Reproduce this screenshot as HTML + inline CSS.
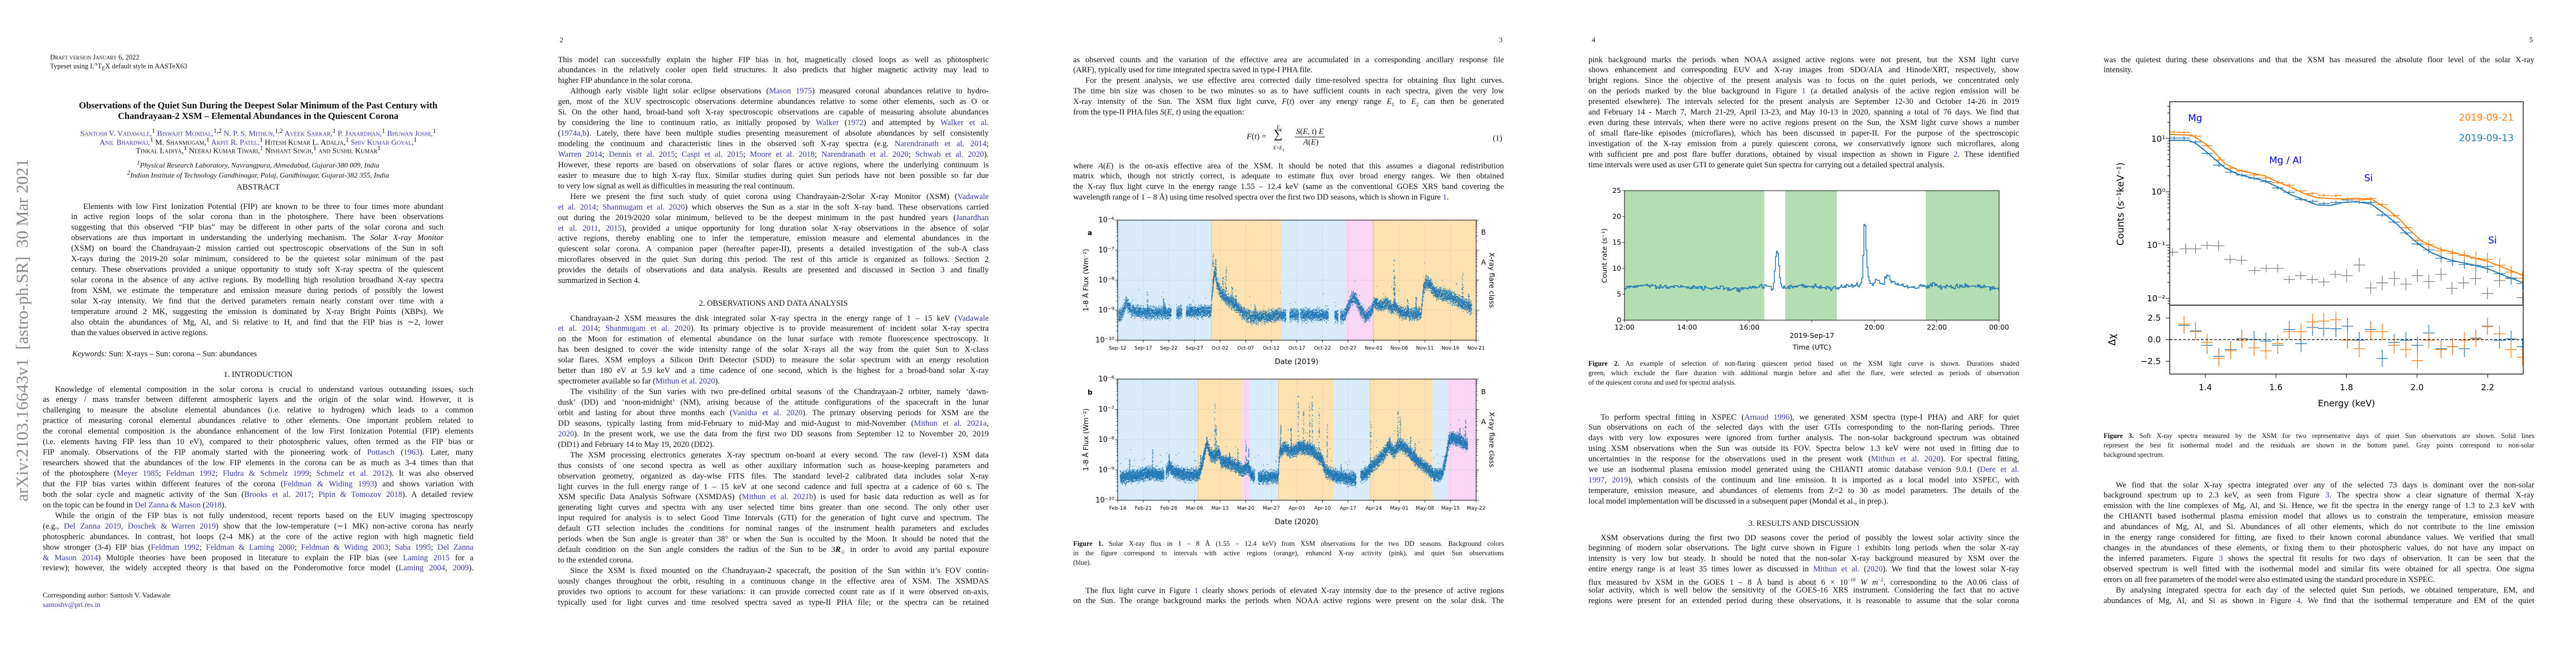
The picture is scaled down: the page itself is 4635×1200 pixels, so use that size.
<!DOCTYPE html>
<html><head><meta charset="utf-8">
<style>
body{margin:0;width:4635px;height:1200px;position:relative;background:#fff;overflow:hidden;font-family:"Liberation Serif",serif;color:#111}
.t{position:absolute;width:775px;font-size:14.5px;line-height:18.95px}
.t div{height:18.95px;overflow:hidden;text-align:justify;text-align-last:justify;white-space:normal}
.t div.e{text-align-last:left}
.t div.i{text-indent:22px}
.cap{position:absolute;width:775px;font-size:12.3px;line-height:17px}
.cap div{height:17px;overflow:hidden;text-align:justify;text-align-last:justify}
.cap div.e{text-align-last:left}
.L{position:absolute;white-space:nowrap}
.c{color:#3838a8}
.sc{font-variant:small-caps}
.ctr{position:absolute;width:775px;text-align:center;white-space:nowrap}
svg{position:absolute;top:0}
svg text{font-family:"DejaVu Sans",sans-serif}
</style></head><body>

<!-- ================= PAGE 1 ================= -->
<div class="L" style="left:40px;top:594px;transform:translate(-50%,-50%) rotate(-90deg);font-size:31px;color:#8a8a8a;white-space:pre">arXiv:2103.16643v1  [astro-ph.SR]  30 Mar 2021</div>
<div class="L sc" style="left:90px;top:96px;font-size:12.5px">Draft version January 6, 2022</div>
<div class="L" style="left:90px;top:111px;font-size:12.5px">Typeset using L<sup style="font-size:8px">A</sup>T<sub style="font-size:10px">E</sub>X default style in AASTeX63</div>
<div class="ctr" style="left:77px;top:180px;font-size:16.5px;font-weight:bold">Observations of the Quiet Sun During the Deepest Solar Minimum of the Past Century with</div>
<div class="ctr" style="left:77px;top:199px;font-size:16.5px;font-weight:bold">Chandrayaan-2 XSM – Elemental Abundances in the Quiescent Corona</div>
<div class="ctr sc" style="left:77px;top:229px;font-size:14px"><span class="c">Santosh V. Vadawale,</span><sup>1</sup> <span class="c">Biswajit Mondal,</span><sup>1,2</sup> <span class="c">N. P. S. Mithun,</span><sup>1,2</sup> <span class="c">Aveek Sarkar,</span><sup>1</sup> <span class="c">P. Janardhan,</span><sup>1</sup> <span class="c">Bhuwan Joshi,</span><sup>1</sup></div>
<div class="ctr sc" style="left:77px;top:245px;font-size:14px"><span class="c">Anil Bhardwaj,</span><sup>1</sup> M. Shanmugam,<sup>1</sup> <span class="c">Arpit R. Patel,</span><sup>1</sup> Hitesh Kumar L. Adalja,<sup>1</sup> <span class="c">Shiv Kumar Goyal,</span><sup>1</sup></div>
<div class="ctr sc" style="left:77px;top:260px;font-size:14px">Tinkal Ladiya,<sup>1</sup> Neeraj Kumar Tiwari,<sup>1</sup> Nishant Singh,<sup>1</sup> and Sushil Kumar<sup>1</sup></div>
<div class="ctr" style="left:77px;top:287px;font-size:13px;font-style:italic"><sup>1</sup>Physical Research Laboratory, Navrangpura, Ahmedabad, Gujarat-380 009, India</div>
<div class="ctr" style="left:77px;top:305px;font-size:13px;font-style:italic"><sup>2</sup>Indian Institute of Technology Gandhinagar, Palaj, Gandhinagar, Gujarat-382 355, India</div>
<div class="ctr" style="left:77px;top:329px;font-size:15px">ABSTRACT</div>
<div class="t" style="left:128px;top:362.5px;width:670px">
<div class="i">Elements with low First Ionization Potential (FIP) are known to be three to four times more abundant</div>
<div>in active region loops of the solar corona than in the photosphere. There have been observations</div>
<div>suggesting that this observed “FIP bias” may be different in other parts of the solar corona and such</div>
<div>observations are thus important in understanding the underlying mechanism. The <i>Solar X-ray Monitor</i></div>
<div>(XSM) on board the Chandrayaan-2 mission carried out spectroscopic observations of the Sun in soft</div>
<div>X-rays during the 2019-20 solar minimum, considered to be the quietest solar minimum of the past</div>
<div>century. These observations provided a unique opportunity to study soft X-ray spectra of the quiescent</div>
<div>solar corona in the absence of any active regions. By modelling high resolution broadband X-ray spectra</div>
<div>from XSM, we estimate the temperature and emission measure during periods of possibly the lowest</div>
<div>solar X-ray intensity. We find that the derived parameters remain nearly constant over time with a</div>
<div>temperature around 2 MK, suggesting the emission is dominated by X-ray Bright Points (XBPs). We</div>
<div>also obtain the abundances of Mg, Al, and Si relative to H, and find that the FIP bias is ∼2, lower</div>
<div class="e">than the values observed in active regions.</div>
</div>
<div class="L" style="left:130px;top:629px;font-size:14.5px"><i>Keywords:</i> Sun: X-rays – Sun: corona – Sun: abundances</div>
<div class="ctr" style="left:77px;top:666px;font-size:14.5px">1. INTRODUCTION</div>
<div class="t" style="left:77px;top:691.5px">
<div class="i">Knowledge of elemental composition in the solar corona is crucial to understand various outstanding issues, such</div>
<div>as energy / mass transfer between different atmospheric layers and the origin of the solar wind. However, it is</div>
<div>challenging to measure the absolute elemental abundances (i.e. relative to hydrogen) which leads to a common</div>
<div>practice of measuring coronal elemental abundances relative to other elements. One important problem related to</div>
<div>the coronal elemental composition is the abundance enhancement of the low First Ionization Potential (FIP) elements</div>
<div>(i.e. elements having FIP less than 10 eV), compared to their photospheric values, often termed as the FIP bias or</div>
<div>FIP anomaly. Observations of the FIP anomaly started with the pioneering work of <span class="c">Pottasch</span> (<span class="c">1963</span>). Later, many</div>
<div>researchers showed that the abundances of the low FIP elements in the corona can be as much as 3-4 times than that</div>
<div>of the photosphere (<span class="c">Meyer 1985</span>; <span class="c">Feldman 1992</span>; <span class="c">Fludra &amp; Schmelz 1999</span>; <span class="c">Schmelz et al. 2012</span>). It was also observed</div>
<div>that the FIP bias varies within different features of the corona (<span class="c">Feldman &amp; Widing 1993</span>) and shows variation with</div>
<div>both the solar cycle and magnetic activity of the Sun (<span class="c">Brooks et al. 2017</span>; <span class="c">Pipin &amp; Tomozov 2018</span>). A detailed review</div>
<div class="e">on the topic can be found in <span class="c">Del Zanna &amp; Mason</span> (<span class="c">2018</span>).</div>
<div class="i">While the origin of the FIP bias is not fully understood, recent reports based on the EUV imaging spectroscopy</div>
<div>(e.g., <span class="c">Del Zanna 2019, Doschek &amp; Warren 2019</span>) show that the low-temperature (∼1 MK) non-active corona has nearly</div>
<div>photospheric abundances. In contrast, hot loops (2-4 MK) at the core of the active region with high magnetic field</div>
<div>show stronger (3-4) FIP bias (<span class="c">Feldman 1992</span>; <span class="c">Feldman &amp; Laming 2000</span>; <span class="c">Feldman &amp; Widing 2003</span>; <span class="c">Saba 1995</span>; <span class="c">Del Zanna</span></div>
<div><span class="c">&amp; Mason 2014</span>) Multiple theories have been proposed in literature to explain the FIP bias (see <span class="c">Laming 2015</span> for a</div>
<div>review); however, the widely accepted theory is that based on the Ponderomotive force model (<span class="c">Laming 2004</span>, <span class="c">2009</span>).</div>
</div>
<div class="L" style="left:77px;top:1063px;font-size:13px">Corresponding author: Santosh V. Vadawale</div>
<div class="L c" style="left:77px;top:1080px;font-size:13px">santoshv@prl.res.in</div>

<!-- ================= PAGE 2 ================= -->
<div class="L" style="left:1007px;top:64px;font-size:13px">2</div>
<div class="t" style="left:1004px;top:98.5px">
<div>This model can successfully explain the higher FIP bias in hot, magnetically closed loops as well as photospheric</div>
<div>abundances in the relatively cooler open field structures. It also predicts that higher magnetic activity may lead to</div>
<div class="e">higher FIP abundance in the solar corona.</div>
<div class="i">Although early visible light solar eclipse observations (<span class="c">Mason 1975</span>) measured coronal abundances relative to hydro-</div>
<div>gen, most of the XUV spectroscopic observations determine abundances relative to some other elements, such as O or</div>
<div>Si. On the other hand, broad-band soft X-ray spectroscopic observations are capable of measuring absolute abundances</div>
<div>by considering the line to continuum ratio, as initially proposed by <span class="c">Walker</span> (<span class="c">1972</span>) and attempted by <span class="c">Walker et al.</span></div>
<div>(<span class="c">1974a,b</span>). Lately, there have been multiple studies presenting measurement of absolute abundances by self consistently</div>
<div>modeling the continuum and characteristic lines in the observed soft X-ray spectra (e.g. <span class="c">Narendranath et al. 2014</span>;</div>
<div><span class="c">Warren 2014</span>; <span class="c">Dennis et al. 2015</span>; <span class="c">Caspi et al. 2015</span>; <span class="c">Moore et al. 2018</span>; <span class="c">Narendranath et al. 2020</span>; <span class="c">Schwab et al. 2020</span>).</div>
<div>However, these reports are based on observations of solar flares or active regions, where the underlying continuum is</div>
<div>easier to measure due to high X-ray flux. Similar studies during quiet Sun periods have not been possible so far due</div>
<div class="e">to very low signal as well as difficulties in measuring the real continuum.</div>
<div class="i">Here we present the first such study of quiet corona using Chandrayaan-2/Solar X-ray Monitor (XSM) (<span class="c">Vadawale</span></div>
<div><span class="c">et al. 2014</span>; <span class="c">Shanmugam et al. 2020</span>) which observes the Sun as a star in the soft X-ray band. These observations carried</div>
<div>out during the 2019/2020 solar minimum, believed to be the deepest minimum in the past hundred years (<span class="c">Janardhan</span></div>
<div><span class="c">et al. 2011</span>, <span class="c">2015</span>), provided a unique opportunity for long duration solar X-ray observations in the absence of solar</div>
<div>active regions, thereby enabling one to infer the temperature, emission measure and elemental abundances in the</div>
<div>quiescent solar corona. A companion paper (hereafter paper-II), presents a detailed investigation of the sub-A class</div>
<div>microflares observed in the quiet Sun during this period. The rest of this article is organized as follows. Section 2</div>
<div>provides the details of observations and data analysis. Results are presented and discussed in Section 3 and finally</div>
<div class="e">summarized in Section 4.</div>
</div>
<div class="ctr" style="left:1004px;top:538px;font-size:14.5px">2. OBSERVATIONS AND DATA ANALYSIS</div>
<div class="t" style="left:1004px;top:563.5px">
<div class="i">Chandrayaan-2 XSM measures the disk integrated solar X-ray spectra in the energy range of 1 – 15 keV (<span class="c">Vadawale</span></div>
<div><span class="c">et al. 2014</span>; <span class="c">Shanmugam et al. 2020</span>). Its primary objective is to provide measurement of incident solar X-ray spectra</div>
<div>on the Moon for estimation of elemental abundance on the lunar surface with remote fluorescence spectroscopy. It</div>
<div>has been designed to cover the wide intensity range of the solar X-rays all the way from the quiet Sun to X-class</div>
<div>solar flares. XSM employs a Silicon Drift Detector (SDD) to measure the solar spectrum with an energy resolution</div>
<div>better than 180 eV at 5.9 keV and a time cadence of one second, which is the highest for a broad-band solar X-ray</div>
<div class="e">spectrometer available so far (<span class="c">Mithun et al. 2020</span>).</div>
<div class="i">The visibility of the Sun varies with two pre-defined orbital seasons of the Chandrayaan-2 orbiter, namely ‘dawn-</div>
<div>dusk’ (DD) and ‘noon-midnight’ (NM), arising because of the attitude configurations of the spacecraft in the lunar</div>
<div>orbit and lasting for about three months each (<span class="c">Vanitha et al. 2020</span>). The primary observing periods for XSM are the</div>
<div>DD seasons, typically lasting from mid-February to mid-May and mid-August to mid-November (<span class="c">Mithun et al. 2021a</span>,</div>
<div><span class="c">2020</span>). In the present work, we use the data from the first two DD seasons from September 12 to November 20, 2019</div>
<div class="e">(DD1) and February 14 to May 19, 2020 (DD2).</div>
<div class="i">The XSM processing electronics generates X-ray spectrum on-board at every second. The raw (level-1) XSM data</div>
<div>thus consists of one second spectra as well as other auxiliary information such as house-keeping parameters and</div>
<div>observation geometry, organized as day-wise FITS files. The standard level-2 calibrated data includes solar X-ray</div>
<div>light curves in the full energy range of 1 – 15 keV at one second cadence and full spectra at a cadence of 60 s. The</div>
<div>XSM specific Data Analysis Software (XSMDAS) (<span class="c">Mithun et al. 2021b</span>) is used for basic data reduction as well as for</div>
<div>generating light curves and spectra with any user selected time bins greater than one second. The only other user</div>
<div>input required for analysis is to select Good Time Intervals (GTI) for the generation of light curve and spectrum. The</div>
<div>default GTI selection includes the conditions for nominal ranges of the instrument health parameters and excludes</div>
<div>periods when the Sun angle is greater than 38° or when the Sun is occulted by the Moon. It should be noted that the</div>
<div>default condition on the Sun angle considers the radius of the Sun to be 3<b><i>R</i></b><sub style="font-size:9px">☉</sub> in order to avoid any partial exposure</div>
<div class="e">to the extended corona.</div>
<div class="i">Since the XSM is fixed mounted on the Chandrayaan-2 spacecraft, the position of the Sun within it’s FOV contin-</div>
<div>uously changes throughout the orbit, resulting in a continuous change in the effective area of XSM. The XSMDAS</div>
<div>provides two options to account for these variations: it can provide corrected count rate as if it were observed on-axis,</div>
<div>typically used for light curves and time resolved spectra saved as type-II PHA file; or the spectra can be retained</div>
</div>

<!-- ================= PAGE 3 ================= -->
<div class="L" style="left:2697px;top:64px;font-size:13px">3</div>
<div class="t" style="left:1931px;top:98.5px">
<div>as observed counts and the variation of the effective area are accumulated in a corresponding ancillary response file</div>
<div class="e">(ARF), typically used for time integrated spectra saved in type-I PHA file.</div>
<div class="i">For the present analysis, we use effective area corrected daily time-resolved spectra for obtaining flux light curves.</div>
<div>The time bin size was chosen to be two minutes so as to have sufficient counts in each spectra, given the very low</div>
<div>X-ray intensity of the Sun. The XSM flux light curve, <i>F</i>(<i>t</i>) over any energy range <i>E</i><sub style="font-size:9px">1</sub> to <i>E</i><sub style="font-size:9px">2</sub> can then be generated</div>
<div class="e">from the type-II PHA files <i>S</i>(<i>E, t</i>) using the equation:</div>
</div>
<div class="L" style="left:2243px;top:238px;font-size:15px"><i>F</i>(<i>t</i>) =</div>
<div class="L" style="left:2292px;top:228px;font-size:22px">∑</div>
<div class="L" style="left:2297px;top:224px;font-size:9px"><i>E</i><sub>2</sub></div>
<div class="L" style="left:2291px;top:261px;font-size:9px"><i>E</i>=<i>E</i><sub>1</sub></div>
<div class="L" style="left:2330px;top:229px;font-size:14.5px;border-bottom:1px solid #111;padding:0 2px"><i>S</i>(<i>E, t</i>) <i>E</i></div>
<div class="L" style="left:2345px;top:248px;font-size:14.5px"><i>A</i>(<i>E</i>)</div>
<div class="L" style="left:2686px;top:241px;font-size:14.5px">(1)</div>
<div class="t" style="left:1931px;top:289.5px">
<div>where <i>A</i>(<i>E</i>) is the on-axis effective area of the XSM. It should be noted that this assumes a diagonal redistribution</div>
<div>matrix which, though not strictly correct, is adequate to estimate flux over broad energy ranges. We then obtained</div>
<div>the X-ray flux light curve in the energy range 1.55 – 12.4 keV (same as the conventional GOES XRS band covering the</div>
<div class="e">wavelength range of 1 – 8 Å) using time resolved spectra over the first two DD seasons, which is shown in Figure <span class="c">1</span>.</div>
</div>
<div class="cap" style="left:1931px;top:969.5px">
<div><b>Figure 1.</b> Solar X-ray flux in 1 – 8 Å (1.55 – 12.4 keV) from XSM observations for the two DD seasons. Background colors</div>
<div>in the figure correspond to intervals with active regions (orange), enhanced X-ray activity (pink), and quiet Sun observations</div>
<div class="e">(blue).</div>
</div>
<div class="t" style="left:1931px;top:1053.5px">
<div class="i">The flux light curve in Figure <span class="c">1</span> clearly shows periods of elevated X-ray intensity due to the presence of active regions</div>
<div>on the Sun. The orange background marks the periods when NOAA active regions were present on the solar disk. The</div>
</div>

<svg id="s3" style="left:1854px" width="927" height="1200">
<g id="f1"></g>
<g font-size="13" text-anchor="end" fill="#000">
<text x="151" y="400">10⁻⁶</text><text x="151" y="454">10⁻⁷</text><text x="151" y="508">10⁻⁸</text><text x="151" y="562">10⁻⁹</text><text x="151" y="616">10⁻¹⁰</text>
<text x="151" y="686">10⁻⁶</text><text x="151" y="740.5">10⁻⁷</text><text x="151" y="795">10⁻⁸</text><text x="151" y="849.5">10⁻⁹</text><text x="151" y="904">10⁻¹⁰</text>
</g>
<g font-size="12" font-weight="bold"><text x="103" y="423">a</text><text x="103" y="710">b</text></g>
<g font-size="12.5"><text transform="translate(104,504) rotate(-90)" text-anchor="middle">1-8 Å Flux (Wm⁻²)</text>
<text transform="translate(104,791) rotate(-90)" text-anchor="middle">1-8 Å Flux (Wm⁻²)</text>
<text x="811" y="422">B</text><text x="811" y="476">A</text>
<text x="811" y="709">B</text><text x="811" y="763">A</text>
<text transform="translate(826,504) rotate(90)" text-anchor="middle">X-ray flare class</text>
<text transform="translate(826,791) rotate(90)" text-anchor="middle">X-ray flare class</text>
<text x="479" y="655" text-anchor="middle" font-size="13">Date (2019)</text>
<text x="479" y="943" text-anchor="middle" font-size="13">Date (2020)</text>
</g>
<g font-size="9" text-anchor="middle">
<text x="157" y="629">Sep-12</text><text x="203.1" y="629">Sep-17</text><text x="249.1" y="629">Sep-22</text><text x="295.2" y="629">Sep-27</text><text x="341.3" y="629">Oct-02</text><text x="387.4" y="629">Oct-07</text><text x="433.4" y="629">Oct-12</text><text x="479.5" y="629">Oct-17</text><text x="525.6" y="629">Oct-22</text><text x="571.6" y="629">Oct-27</text><text x="617.7" y="629">Nov-01</text><text x="663.8" y="629">Nov-06</text><text x="709.8" y="629">Nov-11</text><text x="755.9" y="629">Nov-16</text><text x="802" y="629">Nov-21</text>
<text x="157" y="917">Feb-14</text><text x="203.1" y="917">Feb-21</text><text x="249.1" y="917">Feb-28</text><text x="295.2" y="917">Mar-06</text><text x="341.3" y="917">Mar-13</text><text x="387.4" y="917">Mar-20</text><text x="433.4" y="917">Mar-27</text><text x="479.5" y="917">Apr-03</text><text x="525.6" y="917">Apr-10</text><text x="571.6" y="917">Apr-17</text><text x="617.7" y="917">Apr-24</text><text x="663.8" y="917">May-01</text><text x="709.8" y="917">May-08</text><text x="755.9" y="917">May-15</text><text x="802" y="917">May-22</text>
</g>
</svg>

<!-- ================= PAGE 4 ================= -->
<div class="L" style="left:2864px;top:64px;font-size:13px">4</div>
<div class="t" style="left:2858px;top:98.5px">
<div>pink background marks the periods when NOAA assigned active regions were not present, but the XSM light curve</div>
<div>shows enhancement and corresponding EUV and X-ray images from SDO/AIA and Hinode/XRT, respectively, show</div>
<div>bright regions. Since the objective of the present analysis was to focus on the quiet periods, we concentrated only</div>
<div>on the periods marked by the blue background in Figure <span class="c">1</span> (a detailed analysis of the active region emission will be</div>
<div>presented elsewhere). The intervals selected for the present analysis are September 12-30 and October 14-26 in 2019</div>
<div>and February 14 - March 7, March 21-29, April 13-23, and May 10-13 in 2020, spanning a total of 76 days. We find that</div>
<div>even during these intervals, when there were no active regions present on the Sun, the XSM light curve shows a number</div>
<div>of small flare-like episodes (microflares), which has been discussed in paper-II. For the purpose of the spectroscopic</div>
<div>investigation of the X-ray emission from a purely quiescent corona, we conservatively ignore such microflares, along</div>
<div>with sufficient pre and post flare buffer durations, obtained by visual inspection as shown in Figure <span class="c">2</span>. These identified</div>
<div class="e">time intervals were used as user GTI to generate quiet Sun spectra for carrying out a detailed spectral analysis.</div>
</div>
<div class="cap" style="left:2858px;top:645.5px">
<div><b>Figure 2.</b> An example of selection of non-flaring quiescent period based on the XSM light curve is shown. Durations shaded</div>
<div>green, which exclude the flare duration with additional margin before and after the flare, were selected as periods of observation</div>
<div class="e">of the quiescent corona and used for spectral analysis.</div>
</div>
<div class="t" style="left:2858px;top:741.5px">
<div class="i">To perform spectral fitting in XSPEC (<span class="c">Arnaud 1996</span>), we generated XSM spectra (type-I PHA) and ARF for quiet</div>
<div>Sun observations on each of the selected days with the user GTIs corresponding to the non-flaring periods. Three</div>
<div>days with very low exposures were ignored from further analysis. The non-solar background spectrum was obtained</div>
<div>using XSM observations when the Sun was outside its FOV. Spectra below 1.3 keV were not used in fitting due to</div>
<div>uncertainties in the response for the observations used in the present work (<span class="c">Mithun et al. 2020</span>). For spectral fitting,</div>
<div>we use an isothermal plasma emission model generated using the CHIANTI atomic database version 9.0.1 (<span class="c">Dere et al.</span></div>
<div><span class="c">1997</span>, <span class="c">2019</span>), which consists of the continuum and line emission. It is imported as a local model into XSPEC, with</div>
<div>temperature, emission measure, and abundances of elements from Z=2 to 30 as model parameters. The details of the</div>
<div class="e">local model implementation will be discussed in a subsequent paper (Mondal et al., in prep.).</div>
</div>
<div class="ctr" style="left:2858px;top:934px;font-size:14.5px">3. RESULTS AND DISCUSSION</div>
<div class="t" style="left:2858px;top:958.5px">
<div class="i">XSM observations during the first two DD seasons cover the period of possibly the lowest solar activity since the</div>
<div>beginning of modern solar observations. The light curve shown in Figure <span class="c">1</span> exhibits long periods when the solar X-ray</div>
<div>intensity is very low but steady. It should be noted that the non-solar X-ray background measured by XSM over the</div>
<div>entire energy range is at least 35 times lower as discussed in <span class="c">Mithun et al.</span> (<span class="c">2020</span>). We find that the lowest solar X-ray</div>
<div>flux measured by XSM in the GOES 1 – 8 Å band is about 6 × 10<sup style="font-size:9px">−10</sup> <i>W m</i><sup style="font-size:9px">−2</sup>, corresponding to the A0.06 class of</div>
<div>solar activity, which is well below the sensitivity of the GOES-16 XRS instrument. Considering the fact that no active</div>
<div>regions were present for an extended period during these observations, it is reasonable to assume that the solar corona</div>
</div>

<svg id="s4" style="left:2781px" width="927" height="1200">
<g id="f2"></g>
<g font-size="12.5" text-anchor="end">
<text x="136" y="580">0</text><text x="136" y="533.4">5</text><text x="136" y="486.8">10</text><text x="136" y="440.2">15</text><text x="136" y="393.6">20</text><text x="136" y="347">25</text>
</g>
<g font-size="12.5" text-anchor="middle">
<text x="142" y="593">12:00</text><text x="254.4" y="593">14:00</text><text x="366.8" y="593">16:00</text><text x="591.6" y="593">20:00</text><text x="704" y="593">22:00</text><text x="816" y="593">00:00</text>
<text x="479.2" y="608">2019-Sep-17</text><text x="479.2" y="629">Time (UTC)</text>
<text transform="translate(110,460) rotate(-90)">Count rate (s⁻¹)</text>
</g>
</svg>

<!-- ================= PAGE 5 ================= -->
<div class="L" style="left:4551px;top:64px;font-size:13px">5</div>
<div class="t" style="left:3785px;top:98.5px">
<div>was the quietest during these observations and that the XSM has measured the absolute floor level of the solar X-ray</div>
<div class="e">intensity.</div>
</div>
<div class="cap" style="left:3785px;top:775.5px">
<div><b>Figure 3.</b> Soft X-ray spectra measured by the XSM for two representative days of quiet Sun observations are shown. Solid lines</div>
<div>represent the best fit isothermal model and the residuals are shown in the bottom panel. Gray points correspond to non-solar</div>
<div class="e">background spectrum.</div>
</div>
<div class="t" style="left:3785px;top:863.5px">
<div class="i">We find that the solar X-ray spectra integrated over any of the selected 73 days is dominant over the non-solar</div>
<div>background spectrum up to 2.3 keV, as seen from Figure <span class="c">3</span>. The spectra show a clear signature of thermal X-ray</div>
<div>emission with the line complexes of Mg, Al, and Si. Hence, we fit the spectra in the energy range of 1.3 to 2.3 keV with</div>
<div>the CHIANTI based isothermal plasma emission model that allows us to constrain the temperature, emission measure</div>
<div>and abundances of Mg, Al, and Si. Abundances of all other elements, which do not contribute to the line emission</div>
<div>in the energy range considered for fitting, are fixed to their known coronal abundance values. We verified that small</div>
<div>changes in the abundances of these elements, or fixing them to their photospheric values, do not have any impact on</div>
<div>the inferred parameters. Figure <span class="c">3</span> shows the spectral fit results for two days of observation. It can be seen that the</div>
<div>observed spectrum is well fitted with the isothermal model and similar fits were obtained for all spectra. One sigma</div>
<div class="e">errors on all free parameters of the model were also estimated using the standard procedure in XSPEC.</div>
<div class="i">By analysing integrated spectra for each day of the selected quiet Sun periods, we obtained temperature, EM, and</div>
<div>abundances of Mg, Al, and Si as shown in Figure <span class="c">4</span>. We find that the isothermal temperature and EM of the quiet</div>
</div>

<svg id="s5" style="left:3708px" width="927" height="1200">
<g id="f3"></g>
<g font-size="15" text-anchor="end">
<text x="188" y="255">10¹</text><text x="188" y="350">10⁰</text><text x="188" y="446">10⁻¹</text><text x="188" y="542">10⁻²</text>
<text x="180" y="577">2.5</text><text x="180" y="616">0.0</text><text x="180" y="655">−2.5</text>
</g>
<g font-size="15" text-anchor="middle">
<text x="260" y="702">1.4</text><text x="387" y="702">1.6</text><text x="514" y="702">1.8</text><text x="641" y="702">2.0</text><text x="768" y="702">2.2</text>
<text x="514" y="731" font-size="16">Energy (keV)</text>
<text transform="translate(113,367) rotate(-90)" font-size="17">Counts (s⁻¹keV⁻¹)</text>
<text transform="translate(98,611) rotate(-90)" font-size="17">Δχ</text>
</g>
<g font-size="17">
<text x="229" y="218" fill="#0000ee">Mg</text>
<text x="375" y="294" fill="#0000ee">Mg / Al</text>
<text x="546" y="326" fill="#0000ee">Si</text>
<text x="769" y="438" fill="#0000ee">Si</text>
<text x="815" y="217" fill="#ff7f0e" text-anchor="end">2019-09-21</text>
<text x="815" y="254" fill="#1f77b4" text-anchor="end">2019-09-13</text>
</g>
</svg>

<script>
(function(){
var NS="http://www.w3.org/2000/svg";
function el(p,t,a){var e=document.createElementNS(NS,t);for(var k in a)e.setAttribute(k,a[k]);p.appendChild(e);return e;}
var s=12345;function r(){s|=0;s=s+0x6D2B79F5|0;var t=Math.imul(s^s>>>15,1|s);t=t+Math.imul(t^t>>>7,61|t)^t;return((t^t>>>14)>>>0)/4294967296;}
function g(){return (r()+r()+r()-1.5)*2;}
function interp(k,t){if(t<=k[0][0])return k[0][1];for(var i=1;i<k.length;i++){if(t<=k[i][0]){var a=k[i-1],b=k[i];return a[1]+(b[1]-a[1])*(t-a[0])/(b[0]-a[0]);}}return k[k.length-1][1];}

/* ---------- Figure 1 ---------- */
var f1=document.getElementById('f1');
var BL='#d8ebfa',OR='#fde1b0',PK='#f8d6f4';
function panel(y0,y1,days,bands,knots,gaps,spikes,tEnd){
  var x0=157,x1=802,px=(x1-x0)/days;
  function X(d){return x0+d*px;}
  function Y(l){return y0+(-6-l)*(y1-y0)/4;}
  bands.forEach(function(b){el(f1,'rect',{x:X(b[0]),y:y0,width:X(b[1])-X(b[0]),height:y1-y0,fill:b[2]});
    if(b[2]==OR){el(f1,'line',{x1:X(b[0]),x2:X(b[0]),y1:y0,y2:y1,stroke:'#e0c080','stroke-width':0.8});}});
  var grid='';
  for(var i=1;i<14;i++){var gx=x0+i*(x1-x0)/14;grid+='M'+gx+' '+y0+'V'+y1;}
  for(var j=1;j<4;j++){var gy=y0+j*(y1-y0)/4;grid+='M'+x0+' '+gy+'H'+x1;}
  el(f1,'path',{d:grid,stroke:'#b8b8b8','stroke-width':0.7,'stroke-dasharray':'1.5,2',fill:'none'});
  var d='';
  function pt(t,l){var y=Y(l);if(y<y0||y>y1-1)return;d+='M'+X(t).toFixed(1)+' '+y.toFixed(1)+'h1.3v1.3h-1.3z';}
  for(var t=knots[0][0];t<tEnd;t+=0.012){
    var skip=false;gaps.forEach(function(q){if(t>q[0]&&t<q[1])skip=true;});if(skip)continue;
    var lv=interp(knots,t);
    for(var m=0;m<2;m++){var v=lv+g()*0.1;if(r()<0.004)v+=0.25+r()*0.45;pt(t,v);}
  }
  spikes.forEach(function(sp){var lv=interp(knots,sp[0]);for(var i=0;i<45;i++){var f=Math.pow(r(),1.6);pt(sp[0]+(r()-0.5)*0.25,lv+(sp[1]-lv)*f);}});
  el(f1,'path',{d:d,fill:'#1f77b4'});
  var tk='';
  for(var i=0;i<=14;i++){var tx=x0+i*(x1-x0)/14;tk+='M'+tx+' '+y1+'v4';}
  for(var dd=0;dd<4;dd++){for(var mm=1;mm<10;mm++){var yy=Y(-10+dd+Math.log10(mm));var L=mm==1?5:2.5;tk+='M'+x0+' '+yy+'h-'+L+'M'+x1+' '+yy+'h'+L;}}
  tk+='M'+x0+' '+y0+'h-5M'+x1+' '+y0+'h5';
  el(f1,'path',{d:tk,stroke:'#000','stroke-width':0.8,fill:'none'});
  el(f1,'rect',{x:x0,y:y0,width:x1-x0,height:y1-y0,fill:'none',stroke:'#000','stroke-width':1});
}
panel(396,612,70,
 [[0,18.3,BL],[18.3,31.9,OR],[31.9,44.5,BL],[44.5,49.9,PK],[49.9,70,OR]],
 [[0.1,-9.2],[0.8,-9.12],[1.6,-8.72],[2.6,-9.0],[5,-9.08],[10,-9.08],[13.5,-9.05],[18.2,-9.02],[18.4,-8.4],[18.9,-7.65],[19.3,-8.1],[20.2,-8.45],[22,-8.72],[23.5,-8.9],[24.5,-9.1],[26,-9.22],[29,-9.2],[31.5,-9.15],[35,-9.15],[40,-9.15],[44,-9.2],[44.7,-9.0],[45.6,-8.6],[46.2,-8.55],[47.3,-8.95],[48.3,-9.2],[49.4,-9.05],[50,-8.75],[51.5,-8.85],[52.5,-8.75],[53.5,-8.95],[54.2,-8.85],[55,-9.05],[57,-9.12],[59.2,-9.12],[59.6,-8.3],[60.2,-8.05],[61,-8.15],[62,-8.4],[65,-8.55],[67,-8.75],[69,-8.9]],
 [[10.4,11.4],[12.5,13.3],[32.8,33.5],[35.3,35.6],[41.1,42.3],[43,43.4]],
 [[5.8,-8.4],[8.9,-8.6],[9.2,-8.75],[14.2,-8.85],[15.6,-8.9],[18.6,-7.1],[19.1,-7.3],[20.5,-7.9],[21.1,-7.55],[22.3,-8.2],[23,-8.5],[26.8,-8.75],[53.9,-7.2],[54.0,-7.9],[56.6,-8.6],[58.2,-8.55],[62,-8.35],[67.3,-7.65],[68.5,-8.45],[50.4,-8.6]],69.1);
panel(682,900,98,
 [[0,22,BL],[22,34,OR],[34,36.1,PK],[36.1,44,BL],[44,59,OR],[59,69,BL],[69,86.1,OR],[86.1,90,BL],[90,98,PK]],
 [[0.6,-9.25],[4,-9.2],[8,-9.1],[12.5,-9.15],[13.2,-9.05],[14,-8.9],[15.5,-9.05],[18,-9.15],[22,-9.15],[22.6,-9.0],[23.5,-8.5],[24.3,-8.1],[25.3,-8.5],[26.5,-8.55],[27.5,-8.4],[28.3,-8.7],[30,-8.75],[32,-8.85],[34,-9.0],[35.5,-8.9],[36.5,-9.15],[38.4,-9.25],[43.8,-9.2],[44.2,-8.4],[45.5,-8.25],[47.5,-8.4],[49.5,-8.25],[51,-8.25],[53,-8.35],[54.8,-8.55],[55.5,-8.6],[56.8,-9.0],[58,-9.1],[60,-9.2],[65,-9.3],[66.3,-9.2],[68,-9.1],[70,-8.8],[72.5,-8.5],[74,-8.2],[75.5,-8.4],[77,-8.15],[79,-8.3],[81,-8.6],[83,-8.8],[85,-9.0],[86.5,-9.15],[88.5,-9.15],[89.5,-8.7],[90.5,-8.0],[91.5,-7.95],[93,-8.0],[95.5,-8.15]],
 [[12.6,13.1],[37.4,38.3],[65.1,66.3]],
 [[3.2,-8.6],[9.5,-8.3],[14,-8.45],[22.6,-8.5],[26.5,-6.75],[26.8,-7.5],[30.5,-8.4],[32.8,-8.3],[35,-8.05],[35.7,-8.2],[44.5,-7.5],[47.3,-7.6],[49.3,-6.5],[50.7,-7.05],[52.4,-6.75],[53.1,-6.45],[55,-6.95],[57.2,-7.4],[61,-8.8],[69.1,-7.4],[74.3,-7.9],[76.5,-7.05],[77.2,-7.25],[80,-7.9],[81.2,-8.1],[91.2,-7.75],[93.5,-7.6],[95,-7.35]],95.6);

/* ---------- Figure 2 ---------- */
var f2=document.getElementById('f2');
var X0=142,X1=816,Y0=343,Y1=576;
function FX(m){return X0+m*(X1-X0)/720;}function FY(v){return Y1-v*(Y1-Y0)/25;}
[[0,251.4*720/674],[309,382*720/674],[542*720/674,674*720/674]].forEach(function(b){el(f2,'rect',{x:FX(b[0]),y:Y0,width:FX(b[1])-FX(b[0]),height:Y1-Y0,fill:'#b3ddb3'});});
var ov={282:5.8,284:6.0,286:7.2,288:9.5,290:12.3,292:13.3,294:12.9,296:10.5,298:8.2,300:7.0,302:6.4,
452:6.9,454:7.2,456:8.2,458:12.5,460:18.5,462:18.2,464:13.5,466:10.2,468:8.4,470:7.6};
var dp='';var prev=null;
for(var m=0;m<720;m+=2){
  var v;
  if(ov[m]!==undefined)v=ov[m];
  else{
    var base=6.35+0.2*Math.sin(m/41)+0.15*Math.sin(m/13);
    if(m>420&&m<452)base+=0.5*(m-420)/32;
    if(m>470&&m<525)base=7.2+0.3*Math.sin(m/4);
    if(m>=500&&m<=508)base=8.6;
    if(m>=525&&m<565)base=7.0-0.8*(m-525)/40;
    if(m>610)base+=0.25;
    v=base+g()*0.22;
  }
  var x=FX(m),y=FY(v);
  if(prev===null)dp='M'+x+' '+y;else dp+='V'+y;
  dp+='H'+FX(m+2);prev=y;
}
el(f2,'path',{d:dp,stroke:'#1f77b4','stroke-width':1.5,fill:'none'});
var t2='';
for(var i=0;i<=5;i++){var yy=FY(i*5);t2+='M'+X0+' '+yy+'h-4';}
for(var i=0;i<=6;i++){var xx=X0+i*(X1-X0)/6;t2+='M'+xx+' '+Y1+'v4';}
el(f2,'path',{d:t2,stroke:'#000','stroke-width':0.8,fill:'none'});
el(f2,'rect',{x:X0,y:Y0,width:X1-X0,height:Y1-Y0,fill:'none',stroke:'#000','stroke-width':1});

/* ---------- Figure 3 ---------- */
var f3=document.getElementById('f3');
function zx(x){return x/1.691;}function zy(y){return y/1.307;}
var O=[[331,316],[400,318],[440,338],[470,360],[500,385],[540,400],[580,407],[620,413],[660,428],[700,440],[740,455],[780,465],[820,467],[860,468],[900,466],[950,470],[990,490],[1030,515],[1060,540],[1100,568],[1150,585],[1200,595],[1250,605],[1300,615],[1350,630],[1407,648]];
var B=[[331,330],[390,330],[410,337],[440,355],[470,375],[500,395],[540,410],[580,418],[620,425],[660,440],[700,458],[740,470],[780,482],[820,483],[860,476],[900,474],[945,480],[980,500],[1020,525],[1060,555],[1090,575],[1130,595],[1170,608],[1210,616],[1250,622],[1300,632],[1350,648],[1407,665]];
function yAt(L,x){for(var i=1;i<L.length;i++){if(x<=L[i][0]){var a=L[i-1],b=L[i];return a[1]+(b[1]-a[1])*(x-a[0])/(b[0]-a[0]);}}return L[L.length-1][1];}
var cp=el(f3,'clipPath',{id:'cpt'});el(cp,'rect',{x:196,y:183,width:636,height:366});
var cp2=el(f3,'clipPath',{id:'cpb'});el(cp2,'rect',{x:196,y:549,width:636,height:124});
var top=el(f3,'g',{'clip-path':'url(#cpt)'});var bot=el(f3,'g',{'clip-path':'url(#cpb)'});
var ROx=[345,375,410,445,481,517,551,588,624,660,695,731,766,800,837,872,908,943,978,1014,1050,1085,1120,1157,1192,1228,1263,1298,1335,1370,1405];
var RO=[762,762,780,805,843,825,800,818,825,808,780,780,757,755,752,800,820,780,780,812,822,848,800,822,815,800,797,768,785,822,840];
var RB=[765,765,778,812,838,822,796,798,802,812,775,808,770,772,773,767,800,775,843,805,800,812,783,820,815,820,795,767,800,797,815];
var G=[[340,593],[380,585],[410,585],[445,577],[480,578],[515,610],[550,612],[590,636],[625,631],[660,631],[695,657],[730,648],[765,657],[800,663],[835,645],[870,648],[908,623],[943,677],[978,665],[1015,655],[1050,668],[1085,648],[1120,662],[1157,645],[1190,678],[1225,665],[1262,655],[1298,690],[1335,660],[1370,655],[1405,700]];
var hw=10.5;
var gd='';G.forEach(function(p,i){var x=zx(p[0]),y=zy(p[1]);var he=5+(i>14?5:2)+r()*3;gd+='M'+(x-hw)+' '+y+'H'+(x+hw)+'M'+x+' '+(y-he)+'V'+(y+he);});
el(top,'path',{d:gd,stroke:'#808080','stroke-width':1.3,fill:'none'});
function dataC(L,R,col){var d='';ROx.forEach(function(zxv,i){var x=zx(zxv);var y=zy(yAt(L,zxv))+(R[i]-799)*0.12;var he=(zxv>1100?8:3)+ (zxv>1250?4:0);d+='M'+(x-hw)+' '+y+'H'+(x+hw)+'M'+x+' '+(y-he)+'V'+(y+he);});el(top,'path',{d:d,stroke:col,'stroke-width':1.3,fill:'none'});}
dataC(B,RB,'#1f77b4');dataC(O,RO,'#ff7f0e');
function pl(L){return 'M'+L.map(function(p){return zx(p[0]).toFixed(1)+' '+zy(p[1]).toFixed(1);}).join('L');}
el(top,'path',{d:pl(B),stroke:'#1f77b4','stroke-width':2,fill:'none','stroke-linejoin':'round'});
el(top,'path',{d:pl(O),stroke:'#ff7f0e','stroke-width':2,fill:'none','stroke-linejoin':'round'});
function resC(R,col){var d='';ROx.forEach(function(zxv,i){if(i==0)return;var x=zx(zxv),y=zy(R[i]);d+='M'+(x-hw)+' '+y+'H'+(x+hw)+'M'+x+' '+(y-15)+'V'+(y+15);});el(bot,'path',{d:d,stroke:col,'stroke-width':1.3,fill:'none'});}
resC(RB,'#1f77b4');resC(RO,'#ff7f0e');
el(f3,'line',{x1:196,x2:832,y1:611,y2:611,stroke:'#000','stroke-width':1.3,'stroke-dasharray':'5,3'});
var t3='';
for(var dd=-3;dd<2;dd++){for(var mm=1;mm<10;mm++){var yy=249-96*(dd+Math.log10(mm)-1);if(yy<183||yy>549)continue;t3+='M196 '+yy+'h'+(mm==1?-7:-4);}}
[572,611,650].forEach(function(yy){t3+='M196 '+yy+'h-7';});
[260,387,514,641,768].forEach(function(xx){t3+='M'+xx+' 673v7';});
el(f3,'path',{d:t3,stroke:'#000','stroke-width':1,fill:'none'});
el(f3,'rect',{x:196,y:183,width:636,height:366,fill:'none',stroke:'#000','stroke-width':1.3});
el(f3,'rect',{x:196,y:549,width:636,height:124,fill:'none',stroke:'#000','stroke-width':1.3});
})();
</script>
</body></html>
